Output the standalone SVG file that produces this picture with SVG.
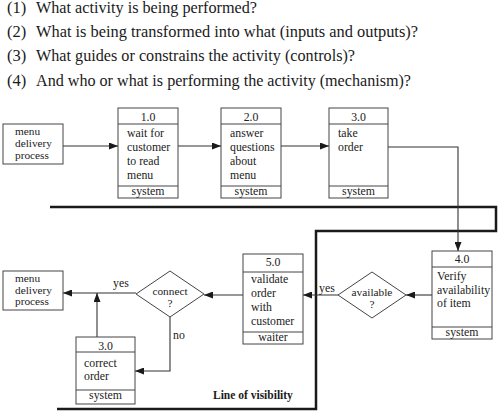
<svg xmlns="http://www.w3.org/2000/svg" width="499" height="412" viewBox="0 0 499 412">
<defs>
<marker id="ah" markerUnits="userSpaceOnUse" markerWidth="9" markerHeight="7" refX="9" refY="3.5" orient="auto">
<path d="M0,0 L9,3.5 L0,7 z" fill="#1a1a1a"/>
</marker>
<style>
.q{font-family:"Liberation Serif","Times New Roman",serif;font-size:16.5px;fill:#1a1a1a}
.t{font-family:"Liberation Serif","Times New Roman",serif;font-size:11.8px;fill:#222}
.s{font-size:11.3px}
.c{text-anchor:middle}
.b{fill:#fff;stroke:#444;stroke-width:1}
.ln{stroke:#444;stroke-width:1;fill:none}
.cn{stroke:#333;stroke-width:1.1;fill:none}
.lov{stroke:#1a1a1a;stroke-width:2.5;fill:none}
.lb{font-family:"Liberation Serif","Times New Roman",serif;font-size:11.5px;font-weight:bold;fill:#1a1a1a}
</style>
</defs>
<rect width="499" height="412" fill="#fff"/>
<g id="questions">
<text class="q" x="7" y="13">(1)</text><text class="q" x="36" y="13" textLength="221" lengthAdjust="spacingAndGlyphs">What activity is being performed?</text>
<text class="q" x="7" y="37">(2)</text><text class="q" x="36" y="37" textLength="382" lengthAdjust="spacingAndGlyphs">What is being transformed into what (inputs and outputs)?</text>
<text class="q" x="7" y="61.3">(3)</text><text class="q" x="36" y="61.3" textLength="319" lengthAdjust="spacingAndGlyphs">What guides or constrains the activity (controls)?</text>
<text class="q" x="7" y="85.5">(4)</text><text class="q" x="36" y="85.5" textLength="375" lengthAdjust="spacingAndGlyphs">And who or what is performing the activity (mechanism)?</text>
</g>
<g id="line-of-visibility">
<path class="lov" d="M50,207 H496 V231 H316 V409 H57"/>
<text class="lb" x="213" y="399">Line of visibility</text>
</g>
<g id="connectors">
<path class="cn" d="M63,146 H118" marker-end="url(#ah)"/>
<path class="cn" d="M178,146 H221" marker-end="url(#ah)"/>
<path class="cn" d="M281,146 H329" marker-end="url(#ah)"/>
<path class="cn" d="M388,147 H458 V251" marker-end="url(#ah)"/>
<path class="cn" d="M432,295 H406" marker-end="url(#ah)"/>
<path class="cn" d="M338,295 H303" marker-end="url(#ah)"/>
<path class="cn" d="M243,295 H204" marker-end="url(#ah)"/>
<path class="cn" d="M136,293 H63" marker-end="url(#ah)"/>
<path class="cn" d="M97,337 V293" marker-end="url(#ah)"/>
<path class="cn" d="M170,317 V371 H135" marker-end="url(#ah)"/>
<text class="t" x="319" y="292">yes</text>
<text class="t" x="113" y="287">yes</text>
<text class="t" x="173" y="339">no</text>
</g>
<g id="menu-delivery-1">
<rect class="b" x="3" y="124" width="60" height="40"/>
<text class="t s" x="15" y="135">menu</text>
<text class="t s" x="15" y="147">delivery</text>
<text class="t s" x="15" y="158.5">process</text>
</g>
<g id="p1">
<rect class="b" x="118" y="108" width="60" height="90"/>
<path class="ln" d="M118,124 H178 M118,186 H178"/>
<text class="t c" x="148" y="121">1.0</text>
<text class="t" x="127" y="137">wait for</text>
<text class="t" x="127" y="151">customer</text>
<text class="t" x="127" y="165">to read</text>
<text class="t" x="127" y="179">menu</text>
<text class="t c" x="148" y="195">system</text>
</g>
<g id="p2">
<rect class="b" x="221" y="108" width="60" height="90"/>
<path class="ln" d="M221,124 H281 M221,186 H281"/>
<text class="t c" x="251" y="121">2.0</text>
<text class="t" x="230" y="137">answer</text>
<text class="t" x="230" y="151">questions</text>
<text class="t" x="230" y="165">about</text>
<text class="t" x="230" y="179">menu</text>
<text class="t c" x="251" y="195">system</text>
</g>
<g id="p3">
<rect class="b" x="329" y="108" width="59" height="90"/>
<path class="ln" d="M329,124 H388 M329,186 H388"/>
<text class="t c" x="358.5" y="121">3.0</text>
<text class="t" x="338" y="137">take</text>
<text class="t" x="338" y="151">order</text>
<text class="t c" x="358.5" y="195">system</text>
</g>
<g id="p4">
<rect class="b" x="432" y="251" width="60" height="88"/>
<path class="ln" d="M432,267 H492 M432,327 H492"/>
<text class="t c" x="462" y="263">4.0</text>
<text class="t" x="437" y="280">Verify</text>
<text class="t" x="437" y="294">availability</text>
<text class="t" x="437" y="307">of item</text>
<text class="t c" x="462" y="336">system</text>
</g>
<g id="available">
<path class="b" d="M372,272 L406,295 L372,318 L338,295 Z"/>
<text class="t s c" x="372" y="295.5">available</text>
<text class="t s c" x="372" y="307.5">?</text>
</g>
<g id="p5">
<rect class="b" x="243" y="254" width="60" height="90"/>
<path class="ln" d="M243,272 H303 M243,332 H303"/>
<text class="t c" x="273" y="266">5.0</text>
<text class="t" x="251" y="283">validate</text>
<text class="t" x="251" y="297">order</text>
<text class="t" x="251" y="311">with</text>
<text class="t" x="251" y="325">customer</text>
<text class="t c" x="273" y="341">waiter</text>
</g>
<g id="connect">
<path class="b" d="M170,271 L204,294 L170,317 L136,294 Z"/>
<text class="t s c" x="170" y="294.5">connect</text>
<text class="t s c" x="170" y="307">?</text>
</g>
<g id="menu-delivery-2">
<rect class="b" x="3" y="271" width="60" height="39"/>
<text class="t s" x="15" y="282">menu</text>
<text class="t s" x="15" y="293.5">delivery</text>
<text class="t s" x="15" y="305">process</text>
</g>
<g id="p3b">
<rect class="b" x="76" y="337" width="59" height="67"/>
<path class="ln" d="M76,352 H135 M76,390 H135"/>
<text class="t c" x="105.5" y="350">3.0</text>
<text class="t" x="84" y="367">correct</text>
<text class="t" x="84" y="380">order</text>
<text class="t c" x="105.5" y="399">system</text>
</g>
</svg>
